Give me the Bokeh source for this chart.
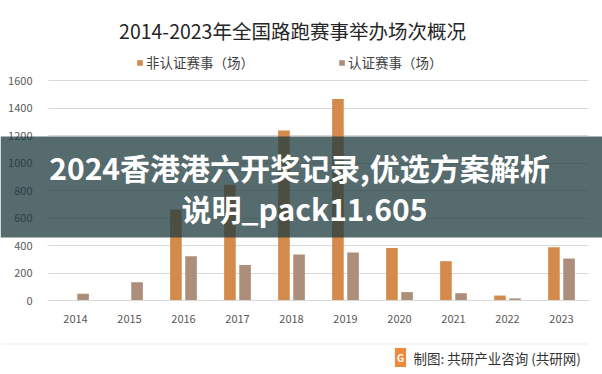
from bokeh.plotting import figure
from bokeh.models import (ColumnDataSource, Range1d, LinearAxis, Grid, Legend, LegendItem,
                          Label, BoxAnnotation, FixedTicker)
from bokeh.transform import dodge
from bokeh.embed import file_html
from bokeh.resources import INLINE

years = ["2014", "2015", "2016", "2017", "2018", "2019", "2020", "2021", "2022", "2023"]
non_certified = [0, 0, 662, 841, 1236, 1465, 381, 286, 36, 388]
certified = [49, 133, 322, 259, 334, 349, 61, 53, 15, 305]
y_ticks = [0, 200, 400, 600, 800, 1000, 1200, 1400, 1600]

title_text = "2014-2023年全国路跑赛事举办场次概况"
series_names = ["非认证赛事（场）", "认证赛事（场）"]
overlay_line1 = "2024香港港六开奖记录,优选方案解析"
overlay_line2 = "说明_pack11.605"
source_text = "制图: 共研产业咨询 (共研网)"

FONT = "Noto Sans CJK SC"
C_NON = "#D38A4B"
C_CERT = "#AD8E7A"

W, H = 602, 374
# pixel layout of the plotting area inside the canvas
AREA_L, AREA_R, AREA_T, AREA_B = 48, 588, 80, 300
n = len(years)
ymax = y_ticks[-1]
px_x = (AREA_R - AREA_L) / n
px_y = (AREA_B - AREA_T) / ymax

xpos = [i + 0.5 for i in range(n)]
src = ColumnDataSource(dict(x=xpos, year=years, non=non_certified, cert=certified))

x_range = Range1d(-AREA_L / px_x, n + (W - AREA_R) / px_x)
y_range = Range1d(-(H - AREA_B) / px_y, AREA_B / px_y)

p = figure(width=W, height=H, x_range=x_range, y_range=y_range,
           x_axis_type=None, y_axis_type=None,
           output_backend="svg", toolbar_location=None,
           min_border=0, min_border_left=0, min_border_right=0,
           min_border_top=0, min_border_bottom=0)
p.outline_line_color = None
p.background_fill_color = "white"
p.border_fill_color = "white"

ygrid = Grid(dimension=1, ticker=FixedTicker(ticks=y_ticks), grid_line_color="#D9D9D9")
try:
    ygrid.cross_bounds = (0, n)
except Exception:
    pass
p.add_layout(ygrid)

r1 = p.vbar(x=dodge("x", -0.14), top="non", width=0.215, source=src,
            color=C_NON, line_color=None)
r2 = p.vbar(x=dodge("x", 0.14), top="cert", width=0.215, source=src,
            color=C_CERT, line_color=None)

yaxis = LinearAxis(fixed_location=0, ticker=FixedTicker(ticks=y_ticks),
                   axis_line_color=None, major_tick_line_color=None, minor_tick_line_color=None,
                   major_label_text_font=FONT, major_label_text_font_size="11px",
                   major_label_text_color="#595959", major_label_standoff=10)
p.add_layout(yaxis, "left")

xaxis = LinearAxis(fixed_location=0, ticker=FixedTicker(ticks=xpos), bounds=(0, n),
                   major_label_overrides={x: y for x, y in zip(xpos, years)},
                   axis_line_color="#D9D9D9", major_tick_line_color=None,
                   minor_tick_line_color=None,
                   major_label_text_font=FONT, major_label_text_font_size="11px",
                   major_label_text_color="#595959", major_label_standoff=8)
p.add_layout(xaxis, "below")

legend = Legend(items=[LegendItem(label=series_names[0], renderers=[r1]),
                       LegendItem(label=series_names[1], renderers=[r2])],
                orientation="horizontal", location=(136, H - 72),
                glyph_width=7, glyph_height=7, label_standoff=3, spacing=84,
                label_height=14, padding=0, margin=0, border_line_color=None,
                background_fill_alpha=0,
                label_text_font=FONT, label_text_font_size="13.5px", label_text_color="#404040")
p.add_layout(legend, "center")

p.add_layout(Label(x=292, y=30, x_units="canvas", y_units="canvas", text=title_text,
                   text_font=FONT, text_font_size="19.5px", text_color="#262626",
                   text_align="center", text_baseline="middle"))

# separator line and source
p.add_layout(BoxAnnotation(left=0, right=AREA_R, top=343, bottom=344, left_units="canvas",
                           right_units="canvas", top_units="canvas", bottom_units="canvas",
                           fill_color="#ECECEC", fill_alpha=1, line_color=None))
p.add_layout(Label(x=400, y=357, x_units="canvas", y_units="canvas", text="G",
                   text_font=FONT, text_font_size="10px", text_font_style="bold",
                   text_color="white", background_fill_color="#EE8A3C",
                   text_align="center", text_baseline="middle", padding=2))
p.add_layout(Label(x=413, y=357, x_units="canvas", y_units="canvas", text=source_text,
                   text_font=FONT, text_font_size="13.5px", text_color="#333333",
                   text_align="left", text_baseline="middle"))

# overlay banner
p.add_layout(BoxAnnotation(left=0, right=W, top=136, bottom=237, left_units="canvas",
                           right_units="canvas", top_units="canvas", bottom_units="canvas",
                           fill_color="#1E3A3D", fill_alpha=0.75, line_color=None,
                           level="overlay"))
p.add_layout(Label(x=299, y=166, x_units="canvas", y_units="canvas", text=overlay_line1,
                   text_font=FONT, text_font_size="30px", text_font_style="bold",
                   text_color="white", text_align="center", text_baseline="middle",
                   level="overlay"))
p.add_layout(Label(x=304, y=207, x_units="canvas", y_units="canvas", text=overlay_line2,
                   text_font=FONT, text_font_size="30px", text_font_style="bold",
                   text_color="white", text_align="center", text_baseline="middle",
                   level="overlay"))

open("out.html", "w").write(file_html(p, INLINE))
